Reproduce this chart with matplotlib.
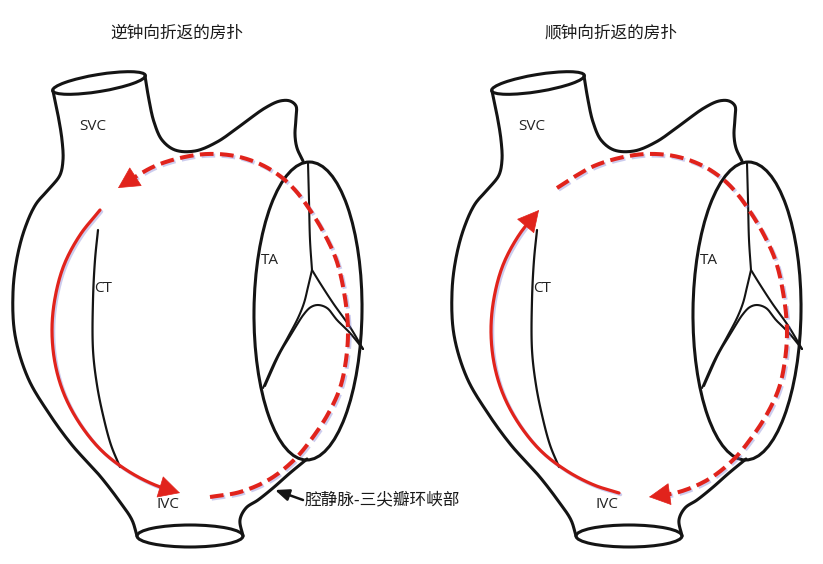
import numpy as np
import matplotlib
matplotlib.use('Agg')
import matplotlib.pyplot as plt
from matplotlib.patches import Ellipse
import matplotlib.patheffects as pe

plt.rcParams['font.family'] = ['Noto Sans CJK SC', 'DejaVu Sans']

# panel titles and the annotation
titles = ['逆钟向折返的房扑', '顺钟向折返的房扑']
title_x = [177, 611]
note = '腔静脉-三尖瓣环峡部'

# chamber labels (left heart, pixel coords)
labels = ['SVC', 'CT', 'TA', 'IVC']
label_x = [93, 103, 270, 168]
label_y = [126, 289, 260, 505]

# right heart is the same drawing moved over
shift = [0, 439]

# outline of the atrium, pixel coords of the left heart
left_wall = [(53, 91), (58, 115), (62, 140), (63, 160), (60, 175), (50, 188),
             (36, 204), (25, 228), (17, 258), (13, 292), (15, 335), (28, 378),
             (48, 412), (72, 445), (100, 476), (120, 502), (132, 520),
             (137, 536)]
lower_right = [(243, 536), (240, 520), (246, 508), (258, 500), (273, 488),
               (290, 473), (307, 459)]
upper_right = [(303, 161), (297, 148), (295, 135), (296, 118), (296, 106),
               (290, 101), (280, 101), (265, 108), (240, 126), (217, 142),
               (195, 151), (175, 150), (162, 140), (154, 122), (149, 100),
               (145, 76)]

# crista terminalis
ct_line = [(98, 230), (95, 260), (93, 300), (93, 350), (97, 385), (103, 415),
           (111, 445), (120, 467)]

# tricuspid leaflets
stem = [(308, 163), (309, 200), (310, 240), (312, 270)]
branch_r = [(312, 270), (320, 283), (333, 303), (350, 327), (363, 349)]
branch_l = [(312, 270), (308, 287), (304, 303), (298, 318), (288, 337),
            (276, 359), (263, 388)]
peak = [(363, 349), (350, 333), (337, 320), (327, 308), (318, 305), (311, 307),
        (304, 314), (292, 333), (280, 353), (265, 386)]

# red circuits, left heart direction
solid_arc = [(100, 210), (80, 235), (64, 265), (55, 298), (52, 330), (55, 363),
             (64, 394), (80, 424), (102, 451), (128, 471), (155, 485),
             (180, 493)]
dashed_arc = [(210, 497), (240, 492), (270, 479), (295, 459), (313, 437),
              (328, 414), (340, 388), (346, 360), (348, 330), (345, 298),
              (337, 262), (325, 235), (310, 210), (295, 190), (280, 176),
              (260, 164), (235, 156), (207, 154), (180, 158), (155, 166),
              (135, 177), (118, 188)]

RED = '#e1231c'
INK = '#141414'


def smooth(pts, n=16):
    # centripetal catmull-rom through the points
    p = np.asarray(pts, float)
    p = np.vstack([2 * p[0] - p[1], p, 2 * p[-1] - p[-2]])
    out = []
    for i in range(1, len(p) - 2):
        p0, p1, p2, p3 = p[i - 1], p[i], p[i + 1], p[i + 2]
        t0 = 0.0
        t1 = t0 + max(np.hypot(*(p1 - p0)), 1e-6) ** 0.5
        t2 = t1 + max(np.hypot(*(p2 - p1)), 1e-6) ** 0.5
        t3 = t2 + max(np.hypot(*(p3 - p2)), 1e-6) ** 0.5
        t = np.linspace(t1, t2, n, endpoint=False)[:, None]
        a1 = (t1 - t) / (t1 - t0) * p0 + (t - t0) / (t1 - t0) * p1
        a2 = (t2 - t) / (t2 - t1) * p1 + (t - t1) / (t2 - t1) * p2
        a3 = (t3 - t) / (t3 - t2) * p2 + (t - t2) / (t3 - t2) * p3
        b1 = (t2 - t) / (t2 - t0) * a1 + (t - t0) / (t2 - t0) * a2
        b2 = (t3 - t) / (t3 - t1) * a2 + (t - t1) / (t3 - t1) * a3
        out.append((t2 - t) / (t2 - t1) * b1 + (t - t1) / (t2 - t1) * b2)
    out.append(p[-2][None])
    return np.vstack(out)


def ink(pts, dx, lw=2.2):
    c = smooth(pts)
    ax.plot(c[:, 0] + dx, c[:, 1], color=INK, lw=lw,
            solid_capstyle='round', solid_joinstyle='round')


def red_arrow(pts, dx, dashed):
    c = smooth(pts)
    c[:, 0] += dx
    s = np.concatenate([[0], np.cumsum(np.hypot(*np.diff(c, axis=0).T))])
    L = s[-1]
    keep = s <= L - 12
    shadow = [pe.SimpleLineShadow(offset=(1.2, -1.2), shadow_color='#6f6fd0',
                                  alpha=0.35), pe.Normal()]
    if dashed:
        ax.plot(c[keep, 0], c[keep, 1], color=RED, lw=2.9, dashes=(3.4, 1.6),
                dash_capstyle='butt', path_effects=shadow)
    else:
        ax.plot(c[keep, 0], c[keep, 1], color=RED, lw=2.3,
                solid_capstyle='round', path_effects=shadow)
    j = np.searchsorted(s, L - 22)
    ax.annotate('', xy=c[-1], xytext=c[j],
                arrowprops=dict(arrowstyle='-|>,head_length=0.8,head_width=0.42',
                                color=RED, lw=0.5, shrinkA=0, shrinkB=0,
                                mutation_scale=18))


fig = plt.figure(figsize=(8.23, 5.64), dpi=100)
ax = fig.add_axes([0, 0, 1, 1])
ax.set_xlim(0, 823)
ax.set_ylim(564, 0)
ax.axis('off')

for k, dx in enumerate(shift):
    ink(left_wall, dx)
    ink(lower_right, dx)
    ink(upper_right, dx)
    ax.add_patch(Ellipse((99 + dx, 83), 94, 17, angle=-9.3, fill=False,
                         ec=INK, lw=2.2))
    ax.add_patch(Ellipse((190 + dx, 536), 106, 22, fill=False, ec=INK, lw=2.2))
    ax.add_patch(Ellipse((308 + dx, 311), 108, 298, angle=0.6, fill=False,
                         ec=INK, lw=2.2))
    ink(ct_line, dx, 1.6)
    for leaf in (stem, branch_r, branch_l, peak):
        ink(leaf, dx, 1.5)

    if k == 0:
        red_arrow(solid_arc, dx, False)
        red_arrow(dashed_arc, dx, True)
    else:
        red_arrow(solid_arc[::-1], dx, False)
        red_arrow(dashed_arc[::-1], dx, True)

    for lab, x, y in zip(labels, label_x, label_y):
        ax.text(x + dx, y, lab, fontsize=11, family='Open Sans', color='#222',
                ha='center', va='center')
    ax.text(title_x[k], 33, titles[k], fontsize=12, ha='center', va='center',
            color='#1a1a1a')

ax.annotate('', xy=(275, 490), xytext=(303, 500),
            arrowprops=dict(arrowstyle='-|>,head_length=0.6,head_width=0.25',
                            color=INK, lw=1.8, shrinkA=0, shrinkB=0,
                            mutation_scale=14))
ax.text(305, 500, note, fontsize=12, ha='left', va='center', color='#1a1a1a')

fig.savefig('out.png', dpi=100, facecolor='white')
